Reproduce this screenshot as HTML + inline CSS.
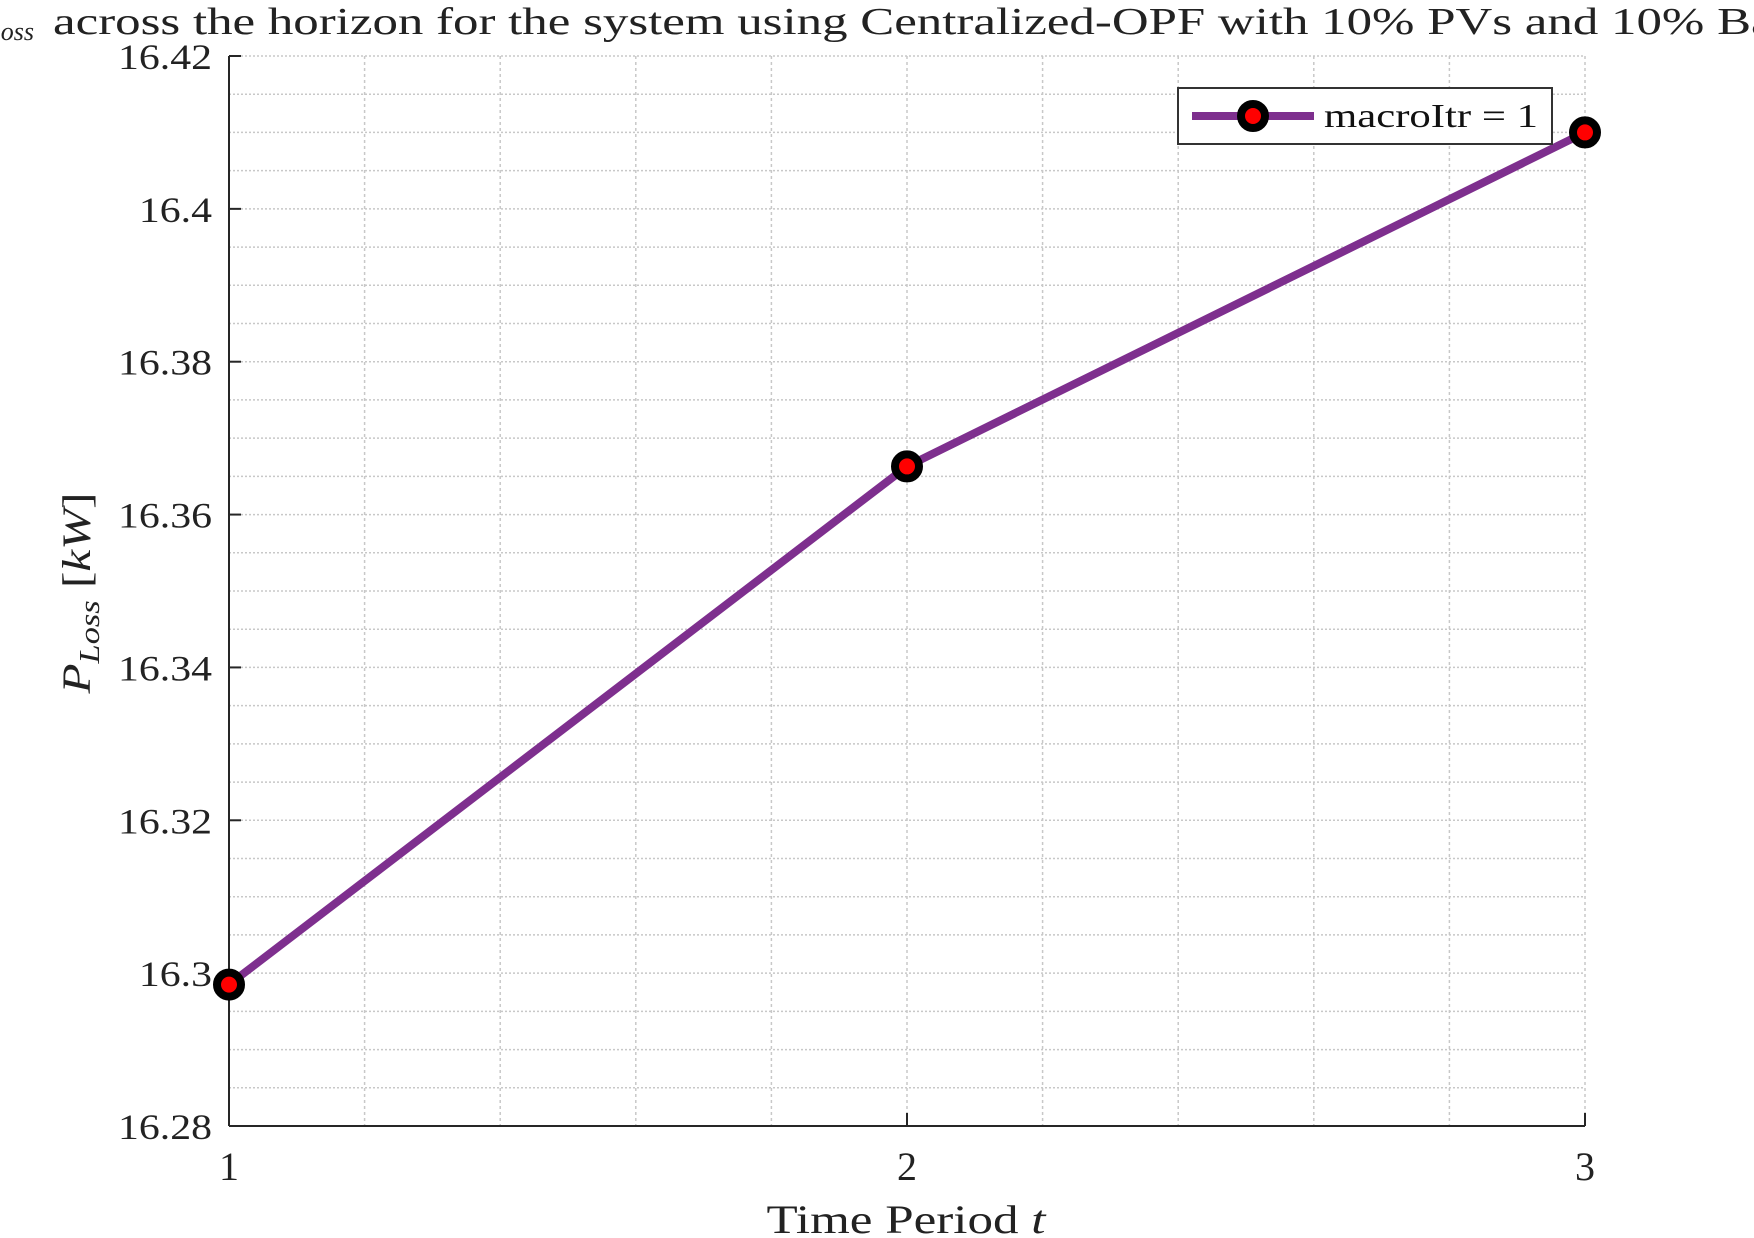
<!DOCTYPE html>
<html><head><meta charset="utf-8"><style>
body{margin:0;background:#fff}
svg{display:block;font-family:"Liberation Serif",serif}
</style></head><body>
<svg id="chart" width="1754" height="1238" viewBox="0 0 1754 1238" xmlns="http://www.w3.org/2000/svg">
<g id="grid"></g>
<g id="axes"></g>
<g id="series"></g>
<text x="34" y="40" text-anchor="end" font-size="26" font-style="italic" fill="#222">oss</text>
<text x="53" y="34" font-size="38" fill="#222" textLength="1845" lengthAdjust="spacingAndGlyphs">across the horizon for the system using Centralized-OPF with 10% PVs and 10% Batteries</text>
<text transform="translate(90,593) rotate(-90)" text-anchor="middle" font-size="40" fill="#222" textLength="201" lengthAdjust="spacingAndGlyphs"><tspan font-style="italic">P</tspan><tspan font-style="italic" font-size="28" dy="9">Loss</tspan><tspan dy="-9"> [</tspan><tspan font-style="italic">kW</tspan><tspan>]</tspan></text>
<text x="906" y="1233" text-anchor="middle" font-size="40" fill="#222" textLength="279" lengthAdjust="spacingAndGlyphs">Time Period <tspan font-style="italic">t</tspan></text>
<g>
<rect x="1178" y="88" width="374" height="56" fill="#fff" stroke="#333" stroke-width="2"/>
<line x1="1192" y1="116" x2="1314" y2="116" stroke="#7e2f8e" stroke-width="8"/>
<circle cx="1253" cy="116" r="12" fill="#ff0000" stroke="#000" stroke-width="8"/>
<text x="1324" y="127" font-size="34" fill="#111" textLength="214" lengthAdjust="spacingAndGlyphs">macroItr = 1</text>
</g>
</svg>
<script>
const categories = [1, 2, 3];
const lossValues = [16.2985, 16.3663, 16.41];
const yTicks = [16.28, 16.3, 16.32, 16.34, 16.36, 16.38, 16.4, 16.42];
const yTickLabels = ["16.28","16.3","16.32","16.34","16.36","16.38","16.4","16.42"];
const xTickLabels = ["1","2","3"];
const L=229,R=1585,T=56,B=1126,ymin=16.28,ymax=16.42;
const X=v=>L+(v-1)/2*(R-L);
const Y=v=>B-(v-ymin)/(ymax-ymin)*(B-T);
const NS="http://www.w3.org/2000/svg";
function mk(p,tag,a){const e=document.createElementNS(NS,tag);for(const k in a)e.setAttribute(k,a[k]);p.appendChild(e);return e;}
const grid=document.getElementById('grid'),axes=document.getElementById('axes'),series=document.getElementById('series');
for(let i=0;i<=28;i++){const y=Y(ymin+i*0.005);
 const g=mk(grid,'line',{x1:L,x2:R,y1:y,y2:y,stroke:'#c8c8c8','stroke-width':1.5,'stroke-dasharray':'2,2'});
 
 }
for(let i=1;i<=10;i++){const x=X(1+i*0.2);
 const g=mk(grid,'line',{x1:x,x2:x,y1:T,y2:B,stroke:'#c8c8c8','stroke-width':1.5,'stroke-dasharray':'3,3'});
 
 }
mk(axes,'line',{x1:L,x2:L,y1:T,y2:B,stroke:'#262626','stroke-width':2});
mk(axes,'line',{x1:L,x2:R,y1:B,y2:B,stroke:'#262626','stroke-width':2});
yTicks.forEach((v,i)=>{const y=Y(v);
 mk(axes,'line',{x1:L,x2:L+12,y1:y,y2:y,stroke:'#262626','stroke-width':2});
 const t=mk(axes,'text',{x:212,y:y+13,'text-anchor':'end','font-size':36,fill:'#222'});t.textContent=yTickLabels[i];
 
 
 const w=t.getComputedTextLength();
 t.setAttribute('textLength',w*1.16);
 t.setAttribute('lengthAdjust','spacingAndGlyphs');});
categories.forEach((c,i)=>{const x=X(c);
 mk(axes,'line',{x1:x,x2:x,y1:B,y2:B-13,stroke:'#262626','stroke-width':2});
 const t=mk(axes,'text',{x:x,y:1180,'text-anchor':'middle','font-size':40,fill:'#222'});t.textContent=xTickLabels[i];
 
 });
const pl=mk(series,'polyline',{points:categories.map((c,i)=>X(c)+','+Y(lossValues[i])).join(' '),fill:'none',stroke:'#7e2f8e','stroke-width':8});


categories.forEach((c,i)=>{const m=mk(series,'circle',{cx:X(c),cy:Y(lossValues[i]),r:12,fill:'#ff0000',stroke:'#000','stroke-width':8});
 
 });
</script>
</body></html>
